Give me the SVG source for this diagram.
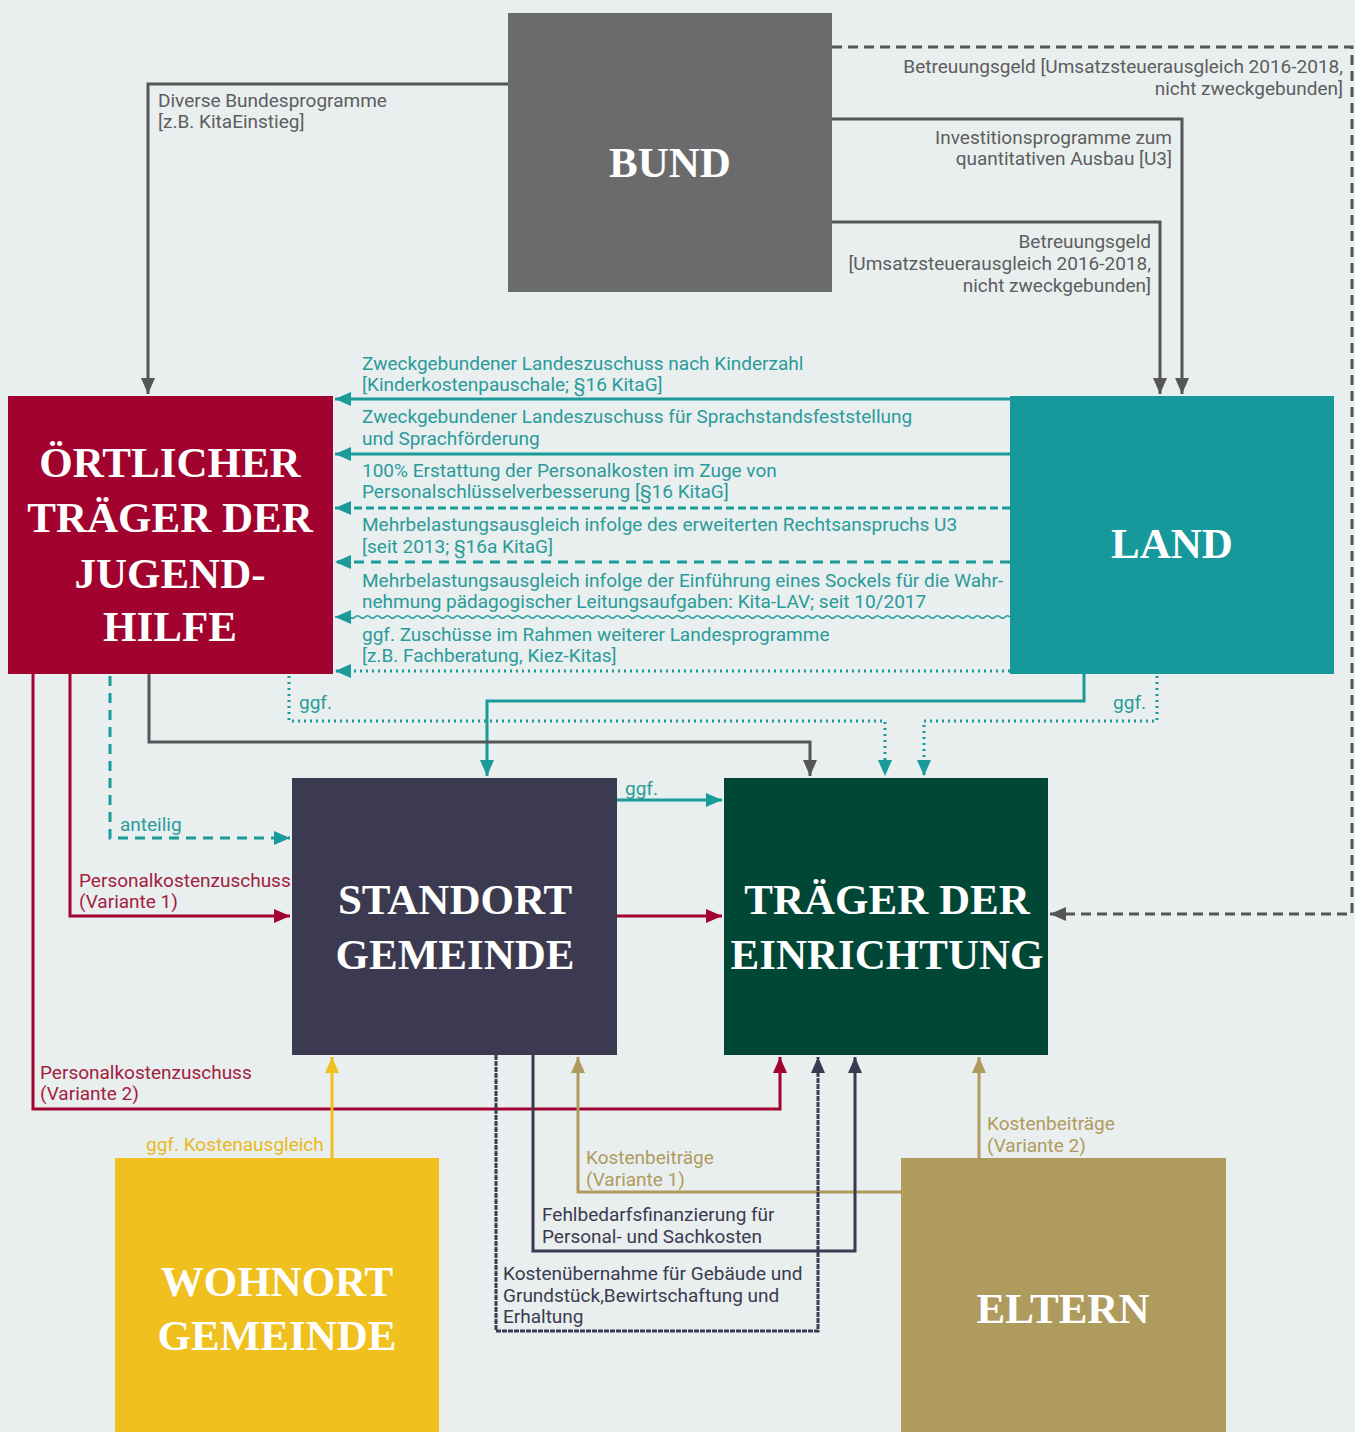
<svg xmlns="http://www.w3.org/2000/svg" width="1355" height="1432" viewBox="0 0 1355 1432">
<defs>
<style>
.node-t{font-family:"Liberation Serif","Times New Roman",serif;font-weight:bold;font-size:43px;fill:#ffffff;text-anchor:middle}
.lbl{font-family:Roboto,"Liberation Sans",sans-serif;font-size:19px}
.r{text-anchor:end}
.c-gray{fill:#5d5d60}
.c-teal{fill:#2a9b9b}
.c-red{fill:#a3203f}
.c-yel{fill:#e9b91f}
.c-tan{fill:#b09b5e}
.c-navy{fill:#3b3a50}
.ln{fill:none;stroke-width:3}
.s-gray{stroke:#555558}
.s-teal{stroke:#1b9a9a}
.s-red{stroke:#a3032f}
.s-yel{stroke:#f0c01e}
.s-tan{stroke:#b09b5e}
.s-navy{stroke:#3b3a50}
.dot{stroke-dasharray:2 4}
.dash{stroke-dasharray:10 7}
</style>
<marker id="a-gray" markerUnits="userSpaceOnUse" markerWidth="16" markerHeight="14" refX="16" refY="7" orient="auto"><path d="M0,0 L16,7 L0,14 z" fill="#555558"/></marker>
<marker id="a-teal" markerUnits="userSpaceOnUse" markerWidth="16" markerHeight="14" refX="16" refY="7" orient="auto"><path d="M0,0 L16,7 L0,14 z" fill="#1b9a9a"/></marker>
<marker id="a-red" markerUnits="userSpaceOnUse" markerWidth="16" markerHeight="14" refX="16" refY="7" orient="auto"><path d="M0,0 L16,7 L0,14 z" fill="#a3032f"/></marker>
<marker id="a-yel" markerUnits="userSpaceOnUse" markerWidth="16" markerHeight="14" refX="16" refY="7" orient="auto"><path d="M0,0 L16,7 L0,14 z" fill="#f0c01e"/></marker>
<marker id="a-tan" markerUnits="userSpaceOnUse" markerWidth="16" markerHeight="14" refX="16" refY="7" orient="auto"><path d="M0,0 L16,7 L0,14 z" fill="#b09b5e"/></marker>
<marker id="a-navy" markerUnits="userSpaceOnUse" markerWidth="16" markerHeight="14" refX="16" refY="7" orient="auto"><path d="M0,0 L16,7 L0,14 z" fill="#3b3a50"/></marker>
</defs>
<rect x="0" y="0" width="1355" height="1432" fill="#e9eeee"/>

<g id="connectors">
  <!-- BUND -> Oertlicher -->
  <path class="ln s-gray" d="M508,84 H148 V394" marker-end="url(#a-gray)"/>
  <text class="lbl c-gray" x="158" y="107">Diverse Bundesprogramme</text>
  <text class="lbl c-gray" x="158" y="128">[z.B. KitaEinstieg]</text>
  <!-- BUND -> Traeger dashed -->
  <path class="ln s-gray" stroke-dasharray="10 6" d="M832,47 H1352 V914 H1050" marker-end="url(#a-gray)"/>
  <text class="lbl c-gray r" x="1343" y="73">Betreuungsgeld [Umsatzsteuerausgleich 2016-2018,</text>
  <text class="lbl c-gray r" x="1343" y="95">nicht zweckgebunden]</text>
  <!-- BUND -> LAND -->
  <path class="ln s-gray" d="M832,119 H1182 V394" marker-end="url(#a-gray)"/>
  <text class="lbl c-gray r" x="1172" y="144">Investitionsprogramme zum</text>
  <text class="lbl c-gray r" x="1172" y="165">quantitativen Ausbau [U3]</text>
  <path class="ln s-gray" d="M832,222 H1160 V394" marker-end="url(#a-gray)"/>
  <text class="lbl c-gray r" x="1151" y="248">Betreuungsgeld</text>
  <text class="lbl c-gray r" x="1151" y="270">[Umsatzsteuerausgleich 2016-2018,</text>
  <text class="lbl c-gray r" x="1151" y="292">nicht zweckgebunden]</text>

  <!-- LAND -> Oertlicher -->
  <path class="ln s-teal" d="M1010,399 H335" marker-end="url(#a-teal)"/>
  <text class="lbl c-teal" x="362" y="370">Zweckgebundener Landeszuschuss nach Kinderzahl</text>
  <text class="lbl c-teal" x="362" y="391">[Kinderkostenpauschale; §16 KitaG]</text>
  <path class="ln s-teal" stroke-width="4" d="M1010,454 H335" marker-end="url(#a-teal)"/>
  <text class="lbl c-teal" x="362" y="423">Zweckgebundener Landeszuschuss für Sprachstandsfeststellung</text>
  <text class="lbl c-teal" x="362" y="445">und Sprachförderung</text>
  <path class="ln s-teal" stroke-dasharray="8 4" d="M1010,508 H335" marker-end="url(#a-teal)"/>
  <text class="lbl c-teal" x="362" y="477">100% Erstattung der Personalkosten im Zuge von</text>
  <text class="lbl c-teal" x="362" y="498">Personalschlüsselverbesserung [§16 KitaG]</text>
  <path class="ln s-teal dash" d="M1010,562 H335" marker-end="url(#a-teal)"/>
  <text class="lbl c-teal" x="362" y="531">Mehrbelastungsausgleich infolge des erweiterten Rechtsanspruchs U3</text>
  <text class="lbl c-teal" x="362" y="553">[seit 2013; §16a KitaG]</text>
  <path fill="none" stroke="#1b9a9a" stroke-width="1.6" d="M1010,617 q-2.5,-2.5 -5,0 t-5,0 -5,0 -5,0 -5,0 -5,0 -5,0 -5,0 -5,0 -5,0 -5,0 -5,0 -5,0 -5,0 -5,0 -5,0 -5,0 -5,0 -5,0 -5,0 -5,0 -5,0 -5,0 -5,0 -5,0 -5,0 -5,0 -5,0 -5,0 -5,0 -5,0 -5,0 -5,0 -5,0 -5,0 -5,0 -5,0 -5,0 -5,0 -5,0 -5,0 -5,0 -5,0 -5,0 -5,0 -5,0 -5,0 -5,0 -5,0 -5,0 -5,0 -5,0 -5,0 -5,0 -5,0 -5,0 -5,0 -5,0 -5,0 -5,0 -5,0 -5,0 -5,0 -5,0 -5,0 -5,0 -5,0 -5,0 -5,0 -5,0 -5,0 -5,0 -5,0 -5,0 -5,0 -5,0 -5,0 -5,0 -5,0 -5,0 -5,0 -5,0 -5,0 -5,0 -5,0 -5,0 -5,0 -5,0 -5,0 -5,0 -5,0 -5,0 -5,0 -5,0 -5,0 -5,0 -5,0 -5,0 -5,0 -5,0 -5,0 -5,0 -5,0 -5,0 -5,0 -5,0 -5,0 -5,0 -5,0 -5,0 -5,0 -5,0 -5,0 -5,0 -5,0 -5,0 -5,0 -5,0 -5,0 -5,0 -5,0 -5,0 -5,0 -5,0 -5,0 -5,0 -5,0 -5,0 -5,0 -5,0 -5,0 -5,0 -5,0 L335,617" marker-end="url(#a-teal)"/>
  <text class="lbl c-teal" x="362" y="587">Mehrbelastungsausgleich infolge der Einführung eines Sockels für die Wahr-</text>
  <text class="lbl c-teal" x="362" y="608">nehmung pädagogischer Leitungsaufgaben: Kita-LAV; seit 10/2017</text>
  <path class="ln s-teal dot" d="M1010,671 H335" marker-end="url(#a-teal)"/>
  <text class="lbl c-teal" x="362" y="641">ggf. Zuschüsse im Rahmen weiterer Landesprogramme</text>
  <text class="lbl c-teal" x="362" y="662">[z.B. Fachberatung, Kiez-Kitas]</text>

  <!-- LAND -> Standort -->
  <path class="ln s-teal" d="M1084,674 V701 H487 V776" marker-end="url(#a-teal)"/>
  <!-- LAND -> Traeger ggf -->
  <path class="ln s-teal dot" d="M1157,676 V721 H924 V776" marker-end="url(#a-teal)"/>
  <text class="lbl c-teal r" x="1146" y="709">ggf.</text>
  <!-- Oertlicher -> Traeger ggf -->
  <path class="ln s-teal dot" d="M289,676 V721 H885 V776" marker-end="url(#a-teal)"/>
  <text class="lbl c-teal" x="299" y="709">ggf.</text>
  <!-- Oertlicher -> Traeger gray -->
  <path class="ln s-gray" d="M149,674 V742 H810 V776" marker-end="url(#a-gray)"/>
  <!-- anteilig -->
  <path class="ln s-teal dash" d="M110,676 V838 H290" marker-end="url(#a-teal)"/>
  <text class="lbl c-teal" x="120" y="831">anteilig</text>
  <!-- Personalkostenzuschuss V1 -->
  <path class="ln s-red" d="M70,674 V916 H290" marker-end="url(#a-red)"/>
  <text class="lbl c-red" x="79" y="887">Personalkostenzuschuss</text>
  <text class="lbl c-red" x="79" y="908">(Variante 1)</text>
  <!-- Personalkostenzuschuss V2 -->
  <path class="ln s-red" d="M33,674 V1109 H780 V1057" marker-end="url(#a-red)"/>
  <text class="lbl c-red" x="40" y="1079">Personalkostenzuschuss</text>
  <text class="lbl c-red" x="40" y="1100">(Variante 2)</text>
  <!-- Standort -> Traeger -->
  <path class="ln s-teal" d="M617,800 H722" marker-end="url(#a-teal)"/>
  <text class="lbl c-teal" x="625" y="795">ggf.</text>
  <path class="ln s-red" d="M617,916 H722" marker-end="url(#a-red)"/>
  <!-- Wohnort -> Standort -->
  <path class="ln s-yel" d="M332,1158 V1057" marker-end="url(#a-yel)"/>
  <text class="lbl c-yel" x="146" y="1151">ggf. Kostenausgleich</text>
  <!-- Eltern -> Standort / Traeger -->
  <path class="ln s-tan" d="M901,1192 H578 V1057" marker-end="url(#a-tan)"/>
  <text class="lbl c-tan" x="586" y="1164">Kostenbeiträge</text>
  <text class="lbl c-tan" x="586" y="1186">(Variante 1)</text>
  <path class="ln s-tan" d="M979,1158 V1057" marker-end="url(#a-tan)"/>
  <text class="lbl c-tan" x="987" y="1130">Kostenbeiträge</text>
  <text class="lbl c-tan" x="987" y="1152">(Variante 2)</text>
  <!-- Standort -> Traeger navy -->
  <path class="ln s-navy" d="M533,1055 V1251 H855 V1057" marker-end="url(#a-navy)"/>
  <text class="lbl c-navy" x="542" y="1221">Fehlbedarfsfinanzierung für</text>
  <text class="lbl c-navy" x="542" y="1243">Personal- und Sachkosten</text>
  <path class="ln s-navy" stroke-dasharray="5 1" d="M496,1055 V1331 H818 V1057" marker-end="url(#a-navy)"/>
  <text class="lbl c-navy" x="503" y="1280">Kostenübernahme für Gebäude und</text>
  <text class="lbl c-navy" x="503" y="1302">Grundstück,Bewirtschaftung und</text>
  <text class="lbl c-navy" x="503" y="1323">Erhaltung</text>
</g>

<g id="bund">
  <rect x="508" y="13" width="324" height="279" fill="#6b6b6d"/>
  <text class="node-t" x="670" y="177">BUND</text>
</g>
<g id="oertlicher-traeger">
  <rect x="8" y="396" width="325" height="278" fill="#a1022e"/>
  <text class="node-t" x="170" y="477">ÖRTLICHER</text>
  <text class="node-t" x="170" y="532">TRÄGER DER</text>
  <text class="node-t" x="170" y="588">JUGEND-</text>
  <text class="node-t" x="170" y="641">HILFE</text>
</g>
<g id="land">
  <rect x="1010" y="396" width="324" height="278" fill="#17989a"/>
  <text class="node-t" x="1172" y="558">LAND</text>
</g>
<g id="standort-gemeinde">
  <rect x="292" y="778" width="325" height="277" fill="#3b3a50"/>
  <text class="node-t" x="455" y="914">STANDORT</text>
  <text class="node-t" x="455" y="969">GEMEINDE</text>
</g>
<g id="traeger-einrichtung">
  <rect x="724" y="778" width="324" height="277" fill="#014736"/>
  <text class="node-t" x="887" y="914">TRÄGER DER</text>
  <text class="node-t" x="887" y="969">EINRICHTUNG</text>
</g>
<g id="wohnort-gemeinde">
  <rect x="115" y="1158" width="324" height="274" fill="#f0c01e"/>
  <text class="node-t" x="277" y="1296">WOHNORT</text>
  <text class="node-t" x="277" y="1350">GEMEINDE</text>
</g>
<g id="eltern">
  <rect x="901" y="1158" width="325" height="274" fill="#b09b5e"/>
  <text class="node-t" x="1063" y="1323">ELTERN</text>
</g>
</svg>
